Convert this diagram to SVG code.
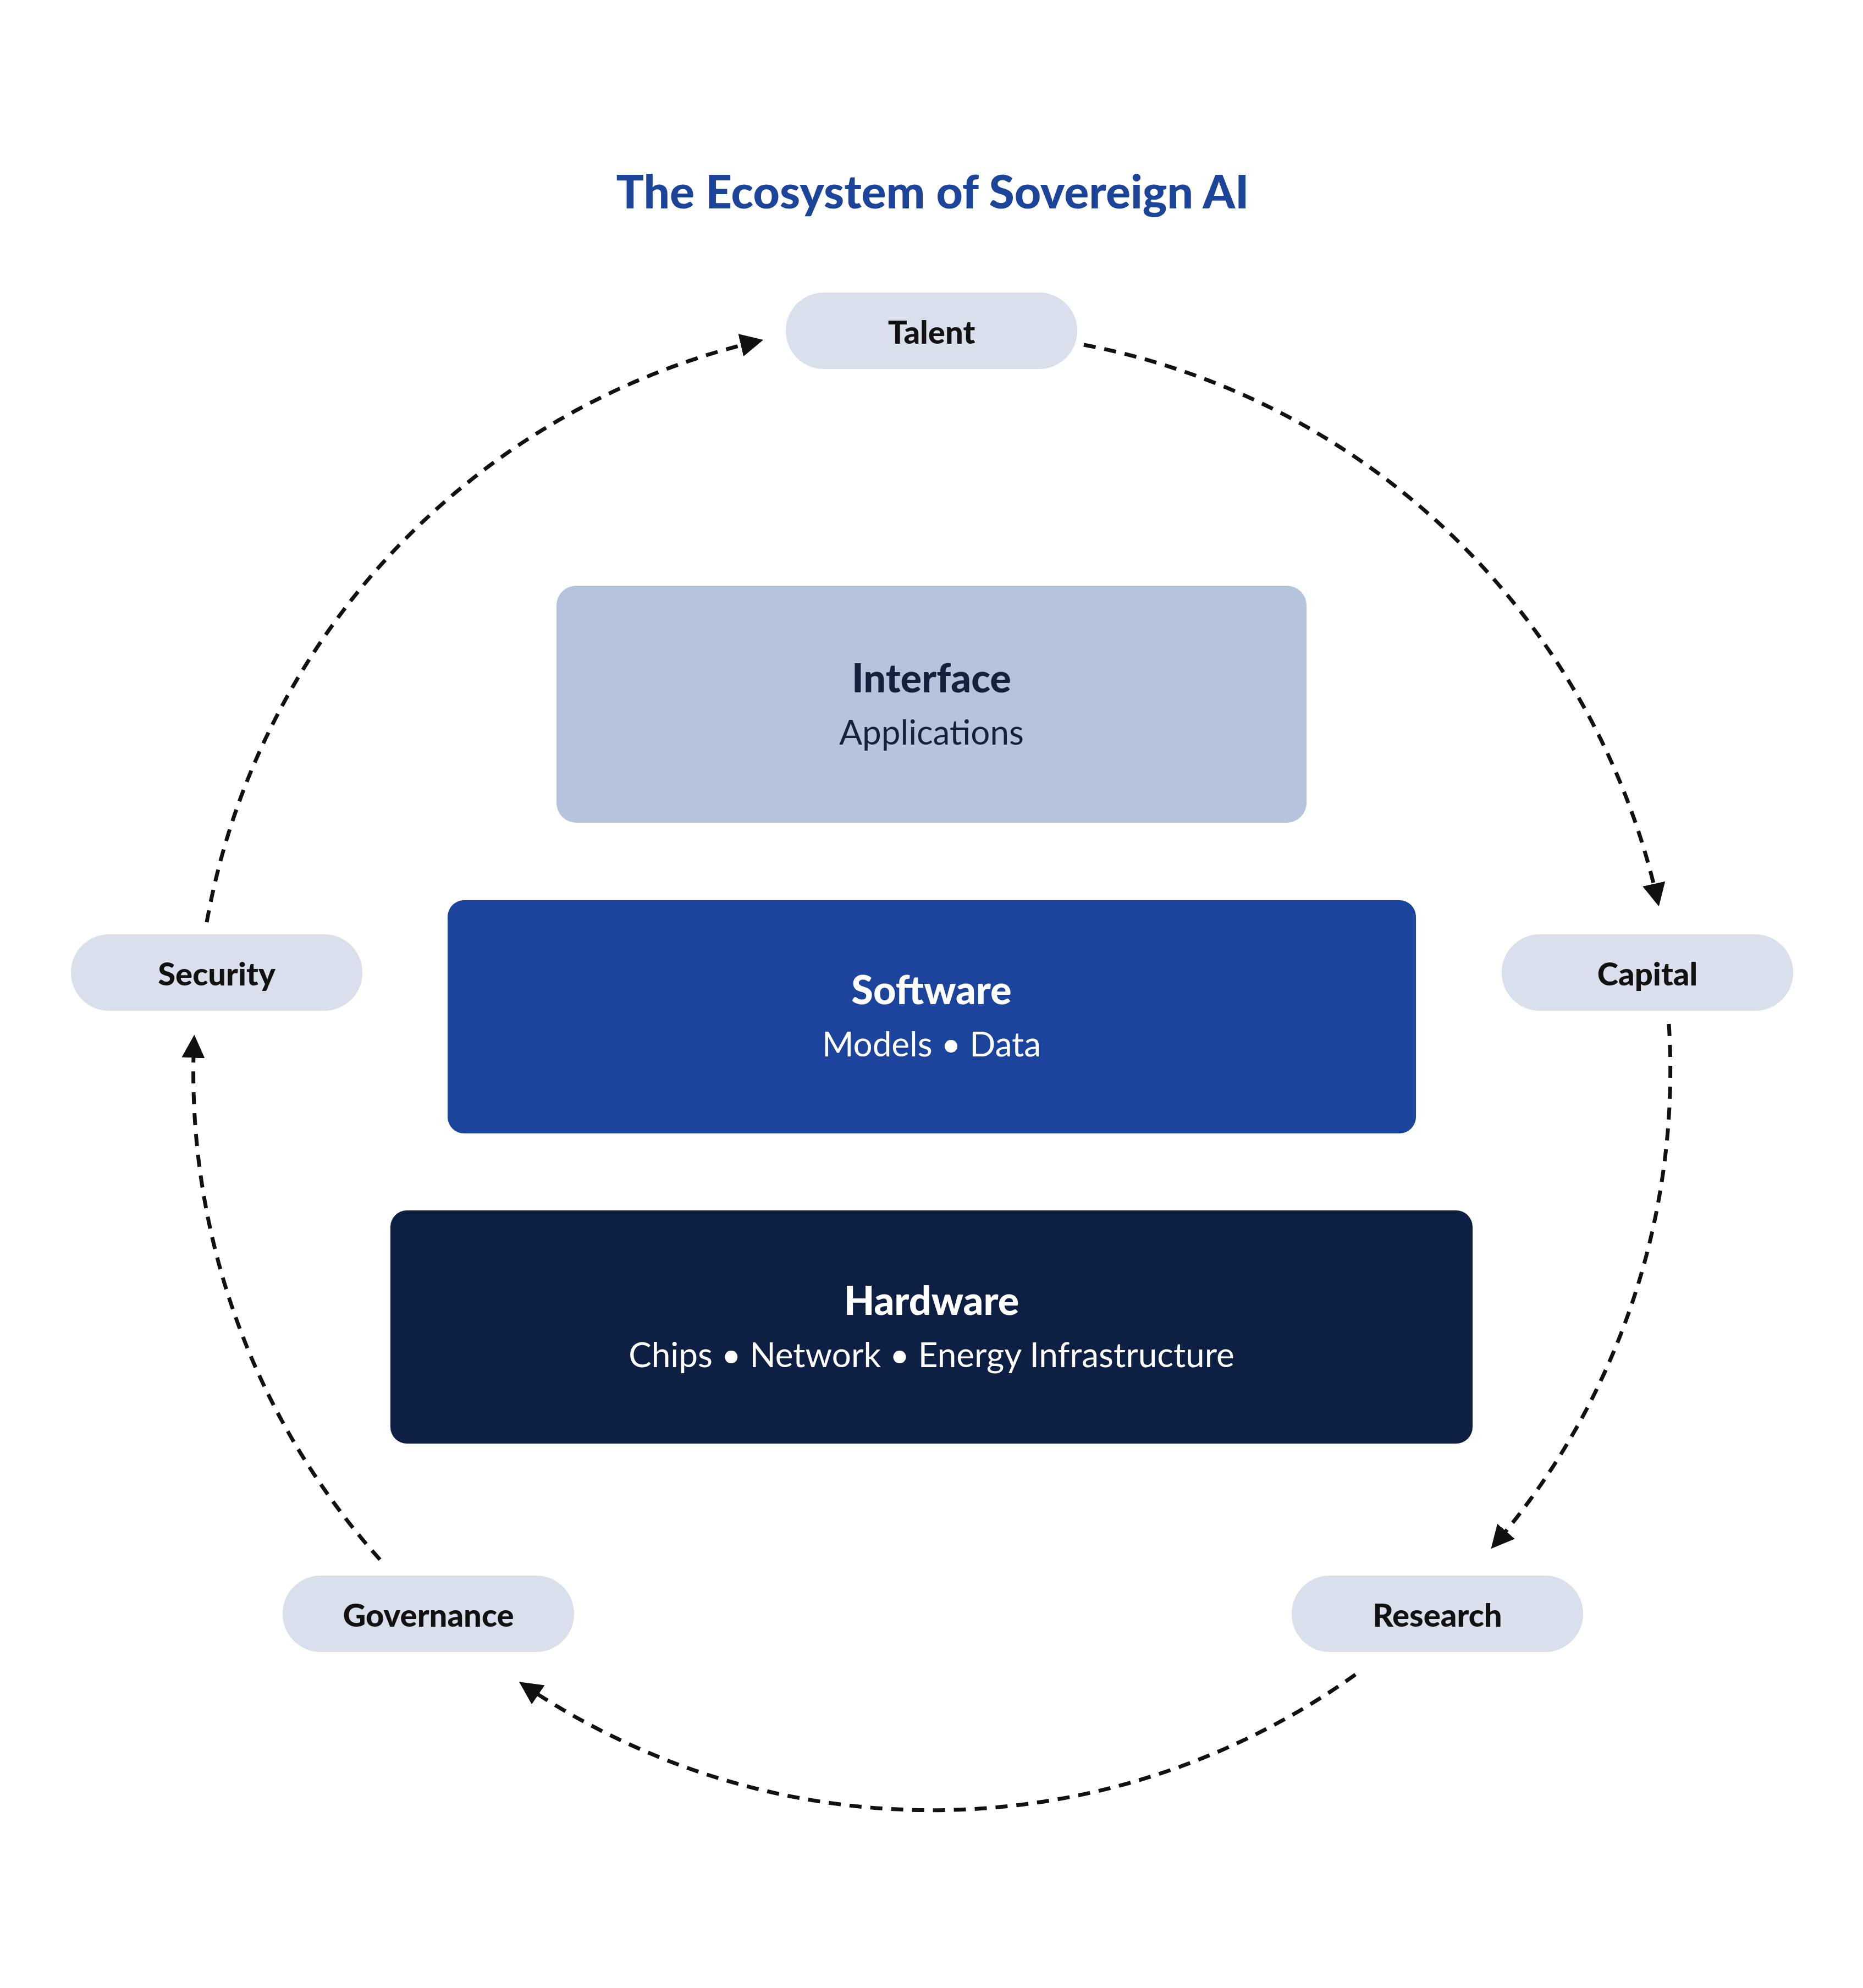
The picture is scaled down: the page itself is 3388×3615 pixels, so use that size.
<svg xmlns="http://www.w3.org/2000/svg" width="3388" height="3615" viewBox="0 0 3388 3615">
<style>
.pill{fill:#D9E0EC}
.pt{font-family:Lato,"Liberation Sans",sans-serif;font-weight:900;font-size:58px;fill:#111;text-anchor:middle;dominant-baseline:central}
.bt{font-family:Lato,"Liberation Sans",sans-serif;font-weight:900;font-size:72px;text-anchor:middle;dominant-baseline:central}
.st{font-family:Lato,"Liberation Sans",sans-serif;font-weight:400;font-size:62px;text-anchor:middle;dominant-baseline:central}
.arc{fill:none;stroke:#111;stroke-width:7;stroke-dasharray:22 16;marker-end:url(#ah)}
</style>
<defs>
<marker id="ah" viewBox="0 0 10 10" refX="8" refY="5" markerWidth="6" markerHeight="6" markerUnits="strokeWidth" orient="auto">
<path d="M0,0 L10,5 L0,10 z" fill="#111"/>
</marker>
</defs>
<rect width="3388" height="3615" fill="#fff"/>
<text x="1696" y="346" font-family="Lato,'Liberation Sans',sans-serif" font-weight="900" font-size="84" fill="#1C4599" text-anchor="middle" dominant-baseline="central">The Ecosystem of Sovereign AI</text>
<g id="connectors">
<path class="arc" d="M1971,627 A1325,1325 0 0 1 3015,1640"/>
<path class="arc" d="M3035,1862 A1325,1325 0 0 1 2717,2810"/>
<path class="arc" d="M2465,3045 A1325,1325 0 0 1 951,3063"/>
<path class="arc" d="M691,2836 A1325,1325 0 0 1 353,1890"/>
<path class="arc" d="M376,1677 A1325,1325 0 0 1 1380,620"/>
</g>
<g id="interface"><rect x="1012" y="1065" width="1364" height="431" rx="36" fill="#B5C4DC"/>
<text class="bt" x="1694" y="1231" fill="#14213D">Interface</text><text class="st" x="1694" y="1330" fill="#14213D">Applications</text></g>
<g id="software"><rect x="814" y="1637" width="1761" height="424" rx="30" fill="#1C449C"/>
<text class="bt" x="1694" y="1798" fill="#fff">Software</text><text class="st" x="1694" y="1897" fill="#fff">Models  •  Data</text></g>
<g id="hardware"><rect x="710" y="2201" width="1968" height="424" rx="30" fill="#0D2043"/>
<text class="bt" x="1694" y="2363" fill="#fff">Hardware</text><text class="st" x="1694" y="2462" fill="#fff">Chips  •  Network  •  Energy Infrastructure</text></g>
<g id="talent"><rect class="pill" x="1429" y="532" width="530" height="139" rx="69"/><text class="pt" x="1694" y="602">Talent</text></g>
<g id="security"><rect class="pill" x="129" y="1699" width="530" height="139" rx="69"/><text class="pt" x="394" y="1769">Security</text></g>
<g id="capital"><rect class="pill" x="2731" y="1699" width="530" height="139" rx="69"/><text class="pt" x="2996" y="1769">Capital</text></g>
<g id="governance"><rect class="pill" x="514" y="2865" width="530" height="139" rx="69"/><text class="pt" x="779" y="2935">Governance</text></g>
<g id="research"><rect class="pill" x="2349" y="2865" width="530" height="139" rx="69"/><text class="pt" x="2614" y="2935">Research</text></g>
</svg>
